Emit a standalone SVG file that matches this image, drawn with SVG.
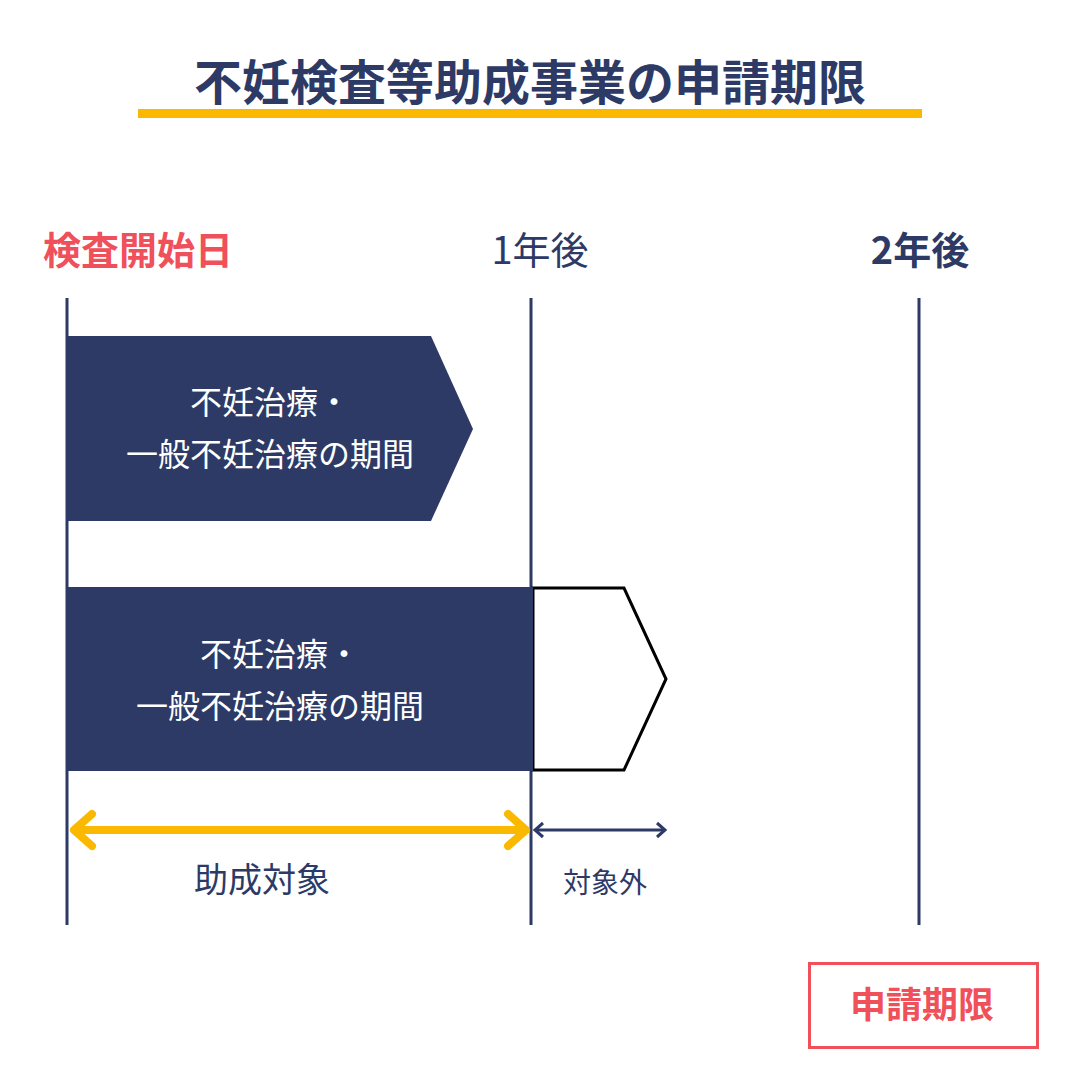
<svg xmlns="http://www.w3.org/2000/svg" width="1080" height="1080" viewBox="0 0 1080 1080">
<style>
text{font-family:"Noto Sans CJK JP","Noto Sans",sans-serif;text-anchor:middle}
.n{fill:#2d3a66}
.w{fill:#fff;font-size:32px}
.v{stroke:#2d3a66;stroke-width:3}
</style>
<rect width="1080" height="1080" fill="#fff"/>
<g id="title">
<rect x="138" y="109" width="784" height="9" fill="#fbb800"/>
<text x="530" y="100" font-size="48" font-weight="bold" class="n">不妊検査等助成事業の申請期限</text>
</g>
<g id="labels">
<text x="138" y="264" font-size="38" font-weight="bold" fill="#f0505a">検査開始日</text>
<text x="540" y="264" font-size="38" class="n">1年後</text>
<text x="920" y="264" font-size="38" font-weight="bold" class="n">2年後</text>
</g>
<g id="timelines">
<line x1="67" y1="298" x2="67" y2="925" class="v"/>
<line x1="531" y1="298" x2="531" y2="925" class="v"/>
<line x1="919" y1="298" x2="919" y2="925" class="v"/>
</g>
<g id="period1">
<polygon points="67,336 431,336 473,429 431,521 67,521" fill="#2d3a66"/>
<text x="270" y="414" class="w">不妊治療・</text>
<text x="270" y="466" class="w">一般不妊治療の期間</text>
</g>
<g id="period2">
<polygon points="533,588 624,588 666,679 624,770 533,770" fill="#fff" stroke="#000" stroke-width="3"/>
<rect x="66" y="587" width="467" height="184" fill="#2d3a66"/>
<text x="280" y="666" class="w">不妊治療・</text>
<text x="280" y="718" class="w">一般不妊治療の期間</text>
</g>
<g id="connectors">
<line x1="74" y1="830" x2="524" y2="830" stroke="#fbb800" stroke-width="8"/>
<polyline points="92,814 74,830 92,846" fill="none" stroke="#fbb800" stroke-width="8" stroke-linecap="round" stroke-linejoin="round"/>
<polyline points="508,814 526,830 508,846" fill="none" stroke="#fbb800" stroke-width="8" stroke-linecap="round" stroke-linejoin="round"/>
<line x1="535" y1="830" x2="665" y2="830" stroke="#2d3a66" stroke-width="3"/>
<polyline points="543,823 535,830 543,837" fill="none" stroke="#2d3a66" stroke-width="3"/>
<polyline points="657,823 665,830 657,837" fill="none" stroke="#2d3a66" stroke-width="3"/>
</g>
<g id="captions">
<text x="262" y="892" font-size="34" class="n">助成対象</text>
<text x="605" y="893" font-size="28" class="n">対象外</text>
</g>
<g id="deadline">
<rect x="809.5" y="963.5" width="228" height="84" fill="#fff" stroke="#f0505a" stroke-width="3"/>
<text x="922" y="1018" font-size="36" font-weight="bold" fill="#f0505a">申請期限</text>
</g>
</svg>
